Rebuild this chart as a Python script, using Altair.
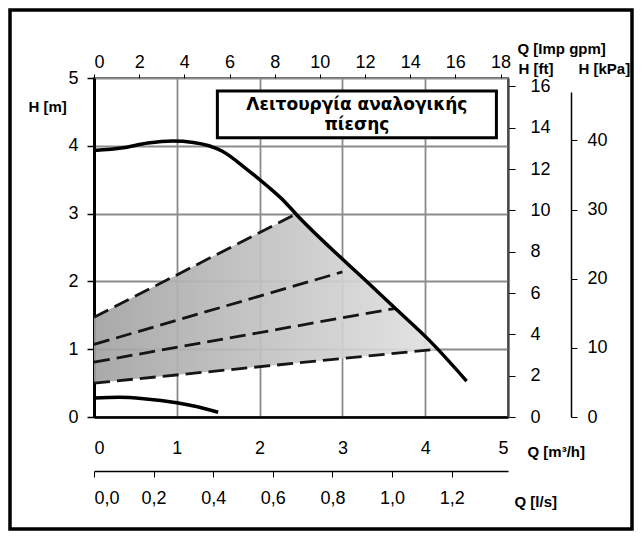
import altair as alt
import pandas as pd
import numpy as np

# ---- data (Q in m3/h, H in m) ----
max_q = [0, 0.35, 0.65, 0.95, 1.2, 1.55, 1.85, 2.1, 2.3, 2.45, 3.0, 3.3, 3.65, 4.05, 4.5]
max_h = [3.93, 3.97, 4.04, 4.07, 4.05, 3.92, 3.65, 3.40, 3.18, 2.98, 2.33, 1.99, 1.59, 1.13, 0.53]

min_q = [0, 0.3, 0.6, 1.0, 1.25, 1.5]
min_h = [0.28, 0.29, 0.27, 0.21, 0.15, 0.07]

# proportional-pressure lines: H at Q=0 and end point on the max curve
pp_start_h = [1.47, 1.07, 0.81, 0.50]
pp_end_q = [2.43, 3.0, 3.63, 4.14]
pp_end_h = [2.99, 2.14, 1.60, 1.00]

# axis ticks
q_ticks = [0, 1, 2, 3, 4, 5]
h_ticks = [0, 1, 2, 3, 4, 5]
gpm_ticks = [0, 2, 4, 6, 8, 10, 12, 14, 16, 18]
ft_ticks = [0, 2, 4, 6, 8, 10, 12, 14, 16]
kpa_ticks = [0, 10, 20, 30, 40]
ls_ticks = [0.0, 0.2, 0.4, 0.6, 0.8, 1.0, 1.2]

title_lines = "Λειτουργία αναλογικής\nπίεσης"
box_q = [1.49, 4.86]
box_h = [4.12, 4.81]

# unit conversions
Q_MAX, H_MAX = 5.0, 5.0
GPM = 3.6662
FT = 3.28084
KPA = 9.80665
LS = 1 / 3.6

W, H = 414, 339
LAB = "Liberation Sans"
LAB_SIZE = 18

# ---- tables ----
curve_df = pd.DataFrame({"q": max_q, "h": max_h})
min_df = pd.DataFrame({"q": min_q, "h": min_h})
pp_rows = []
for i, (h0, qe, he) in enumerate(zip(pp_start_h, pp_end_q, pp_end_h)):
    pp_rows.append({"line": i, "q": 0.0, "h": h0})
    pp_rows.append({"line": i, "q": qe, "h": he})
pp_df = pd.DataFrame(pp_rows)

# shaded operating area: top = first pp line then max curve, bottom = last pp line
inner = [(q, h) for q, h in zip(max_q, max_h) if pp_end_q[0] < q < pp_end_q[-1]]
top_q = [0.0, pp_end_q[0]] + [q for q, _ in inner] + [pp_end_q[-1]]
top_h = [pp_start_h[0], pp_end_h[0]] + [h for _, h in inner] + [pp_end_h[-1]]
bot_h = list(np.interp(top_q, [0.0, pp_end_q[-1]], [pp_start_h[-1], pp_end_h[-1]]))
area_df = pd.DataFrame({"q": top_q, "h": top_h, "h2": bot_h})

box_df = pd.DataFrame({"q": [box_q[0]], "q2": [box_q[1]], "h": [box_h[0]], "h2": [box_h[1]]})
label_df = pd.DataFrame({"q": [(box_q[0] + box_q[1]) / 2], "h": [4.525], "t": [title_lines]})


def xs():
    return alt.Scale(domain=[0, Q_MAX], nice=False, zero=False)


def ys():
    return alt.Scale(domain=[0, H_MAX], nice=False, zero=False)


title_style = dict(titleFont=LAB, titleFontSize=15, titleFontWeight="bold", titleColor="black",
                   titleAngle=0, titleAlign="left", titleBaseline="alphabetic")
label_style = dict(labelFont=LAB, labelFontSize=LAB_SIZE, labelColor="black")

x_axis = alt.Axis(orient="bottom", values=q_ticks, grid=True, gridColor="#8c8c8c", gridWidth=1.8,
                  ticks=False, domain=True, domainColor="black", domainWidth=2.5,
                  labelPadding=22, title="Q [m³/h]", titleX=433, titleY=39,
                  **label_style, **title_style)
y_axis = alt.Axis(orient="left", values=h_ticks, grid=True, gridColor="#8c8c8c", gridWidth=1.8,
                  ticks=True, tickSize=7, tickColor="black", tickWidth=1.5,
                  domain=True, domainColor="black", domainWidth=3,
                  labelPadding=9, title="H [m]", titleX=-66, titleY=33,
                  **label_style, **title_style)

grad = alt.Gradient(gradient="linear",
                    stops=[alt.GradientStop(color="#a2a2a2", offset=0),
                           alt.GradientStop(color="#e2e2e2", offset=1)],
                    x1=0, x2=1, y1=0, y2=0)

# layer carrying the main (m3/h, m) axes and grid
axes_layer = alt.Chart(pd.DataFrame({"q": q_ticks, "h": h_ticks})).mark_point(opacity=0).encode(
    x=alt.X("q:Q", scale=xs(), axis=x_axis),
    y=alt.Y("h:Q", scale=ys(), axis=y_axis),
)

area = alt.Chart(area_df).mark_area(color=grad, opacity=0.92, interpolate="linear").encode(
    x=alt.X("q:Q", scale=xs(), axis=None),
    y=alt.Y("h:Q", scale=ys(), axis=None),
    y2="h2:Q",
)

pp_lines = alt.Chart(pp_df).mark_line(color="#151515", strokeWidth=2.8, strokeDash=[16, 7]).encode(
    x=alt.X("q:Q", scale=xs(), axis=None),
    y=alt.Y("h:Q", scale=ys(), axis=None),
    detail="line:N",
)

max_line = alt.Chart(curve_df).mark_line(color="black", strokeWidth=3.5, interpolate="monotone").encode(
    x=alt.X("q:Q", scale=xs(), axis=None),
    y=alt.Y("h:Q", scale=ys(), axis=None),
)

min_line = alt.Chart(min_df).mark_line(color="black", strokeWidth=3.5, interpolate="monotone").encode(
    x=alt.X("q:Q", scale=xs(), axis=None),
    y=alt.Y("h:Q", scale=ys(), axis=None),
)

box = alt.Chart(box_df).mark_rect(fill="white", stroke="black", strokeWidth=3).encode(
    x=alt.X("q:Q", scale=xs(), axis=None), x2="q2:Q",
    y=alt.Y("h:Q", scale=ys(), axis=None), y2="h2:Q",
)

box_label = alt.Chart(label_df).mark_text(font="DejaVu Sans", fontSize=17, fontWeight="bold",
                                          color="black", align="center", baseline="alphabetic",
                                          lineBreak="\n", lineHeight=20).encode(
    x=alt.X("q:Q", scale=xs(), axis=None),
    y=alt.Y("h:Q", scale=ys(), axis=None),
    text="t:N",
)

frame = alt.Chart(pd.DataFrame({"k": [0]})).mark_rect(fill="white", fillOpacity=0, stroke="black",
                                                       strokeWidth=3.5).encode(
    x=alt.value(-84), x2=alt.value(538), y=alt.value(-68), y2=alt.value(451),
)

# ---- secondary axes ----
gpm_layer = alt.Chart(pd.DataFrame({"v": gpm_ticks})).mark_point(opacity=0).encode(
    x=alt.X("v:Q", scale=alt.Scale(domain=[0, Q_MAX * GPM], nice=False, zero=False),
            axis=alt.Axis(orient="top", values=gpm_ticks, grid=False, tickSize=4, tickColor="black",
                          domain=False, labelPadding=3, title="Q [Imp gpm]", titleX=423, titleY=-25,
                          **label_style, **title_style)),
)

ft_layer = alt.Chart(pd.DataFrame({"v": ft_ticks})).mark_point(opacity=0).encode(
    y=alt.Y("v:Q", scale=alt.Scale(domain=[0, H_MAX * FT], nice=False, zero=False),
            axis=alt.Axis(orient="right", values=ft_ticks, grid=False, tickSize=7, tickColor="black",
                          domain=True, domainColor="#444444", domainWidth=2,
                          labelPadding=15, title="H [ft]", titleX=10, titleY=-5,
                          **label_style, **title_style)),
)

kpa_top = 47.0
kpa_layer = alt.Chart(pd.DataFrame({"v": kpa_ticks})).mark_point(opacity=0).encode(
    y=alt.Y("v:Q", scale=alt.Scale(domain=[0, kpa_top], range=[H, H - H * kpa_top / (H_MAX * KPA)],
                                   nice=False, zero=False),
            axis=alt.Axis(orient="right", offset=63, values=kpa_ticks, grid=False, tickSize=6,
                          tickColor="black", domain=True, domainColor="black", domainWidth=1.5,
                          labelPadding=10, title="H [kPa]", titleX=7, titleY=-5,
                          **label_style, **title_style)),
)

ls_layer = alt.Chart(pd.DataFrame({"v": ls_ticks})).mark_point(opacity=0).encode(
    x=alt.X("v:Q", scale=alt.Scale(domain=[0, Q_MAX * LS], nice=False, zero=False),
            axis=alt.Axis(orient="bottom", offset=54, values=ls_ticks, grid=False, tickSize=6,
                          tickColor="black", domain=True, domainColor="black", domainWidth=1.5,
                          labelPadding=12, labelExpr="replace(format(datum.value, '.1f'), '.', ',')",
                          title="Q [l/s]", titleX=420, titleY=35,
                          **label_style, **title_style)),
)

chart = alt.layer(
    axes_layer, area, pp_lines, max_line, min_line, box, box_label, frame,
    gpm_layer, ft_layer, kpa_layer, ls_layer,
).resolve_scale(
    x="independent", y="independent"
).properties(
    width=W, height=H,
    padding={"left": 86, "top": 70, "right": 126, "bottom": 114},
    autosize=alt.AutoSizeParams(type="none"),
    background="white",
).configure_view(stroke="#555555", strokeWidth=2)

chart.save("out.html", embed_options={"renderer": "svg", "actions": False})
